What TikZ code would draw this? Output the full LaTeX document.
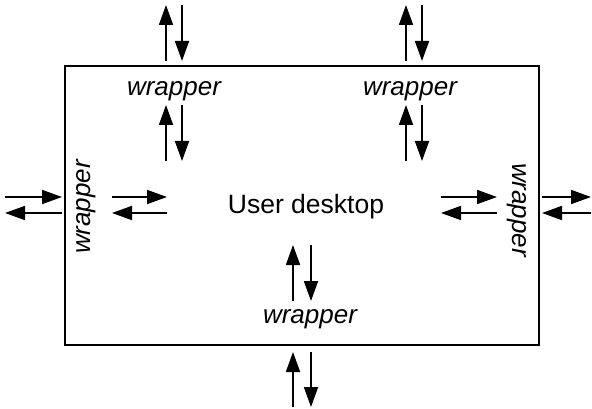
\documentclass[tikz,border=0pt]{standalone}
\usepackage{fontspec}
\setmainfont{Liberation Sans}
\usetikzlibrary{arrows.meta}

\begin{document}
\begin{tikzpicture}[x=1pt,y=-1pt,line width=1.8pt,
		arr/.style={-{Triangle[length=20pt,width=14pt]}},
		txt/.style={inner sep=0pt,font=\fontsize{26.5}{30}\selectfont},
		wrap/.style={txt,font=\fontsize{26}{30}\selectfont\itshape}]
		\useasboundingbox (0,0) rectangle (592,409);
		\draw (65,66) rectangle (539,345);
		
		\node[txt] (desk) at (306,207) {User desktop};
		\node[wrap] (wtl) at (174,91) {wrapper};
		\node[wrap] (wtr) at (410,91) {wrapper};
		\node[wrap] (wb) at (310,319) {wrapper};
		\node[wrap,rotate=90] (wl) at (86,207) {wrapper};
		\node[wrap,rotate=-90] (wr) at (517,210) {wrapper};
		
		% vertical pairs: up arrow left, down arrow right
		\foreach \n/\u/\d/\ya/\yb in {tlo/166/182/5/61, tli/166/182/105/161, tro/406/422/5/61,
				tri/406/422/105/161, bi/293/311/245/301, bo/293/311/352/407} {
			\coordinate (\n-ut) at (\u,\ya);
			\coordinate (\n-ub) at (\u,\yb);
			\coordinate (\n-dt) at (\d,\ya);
			\coordinate (\n-db) at (\d,\yb);
			\draw[arr] (\n-ub) -- (\n-ut);
			\draw[arr] (\n-dt) -- (\n-db);
		}
		% horizontal pairs: right arrow above, left arrow below
		\foreach \n/\xa/\xb in {lo/5/62, li/112/167, ri/441/497, ro/542/591} {
			\coordinate (\n-ra) at (\xa,197);
			\coordinate (\n-rb) at (\xb,197);
			\coordinate (\n-la) at (\xa,213);
			\coordinate (\n-lb) at (\xb,213);
			\draw[arr] (\n-ra) -- (\n-rb);
			\draw[arr] (\n-lb) -- (\n-la);
		}
	\end{tikzpicture}
\end{document}
